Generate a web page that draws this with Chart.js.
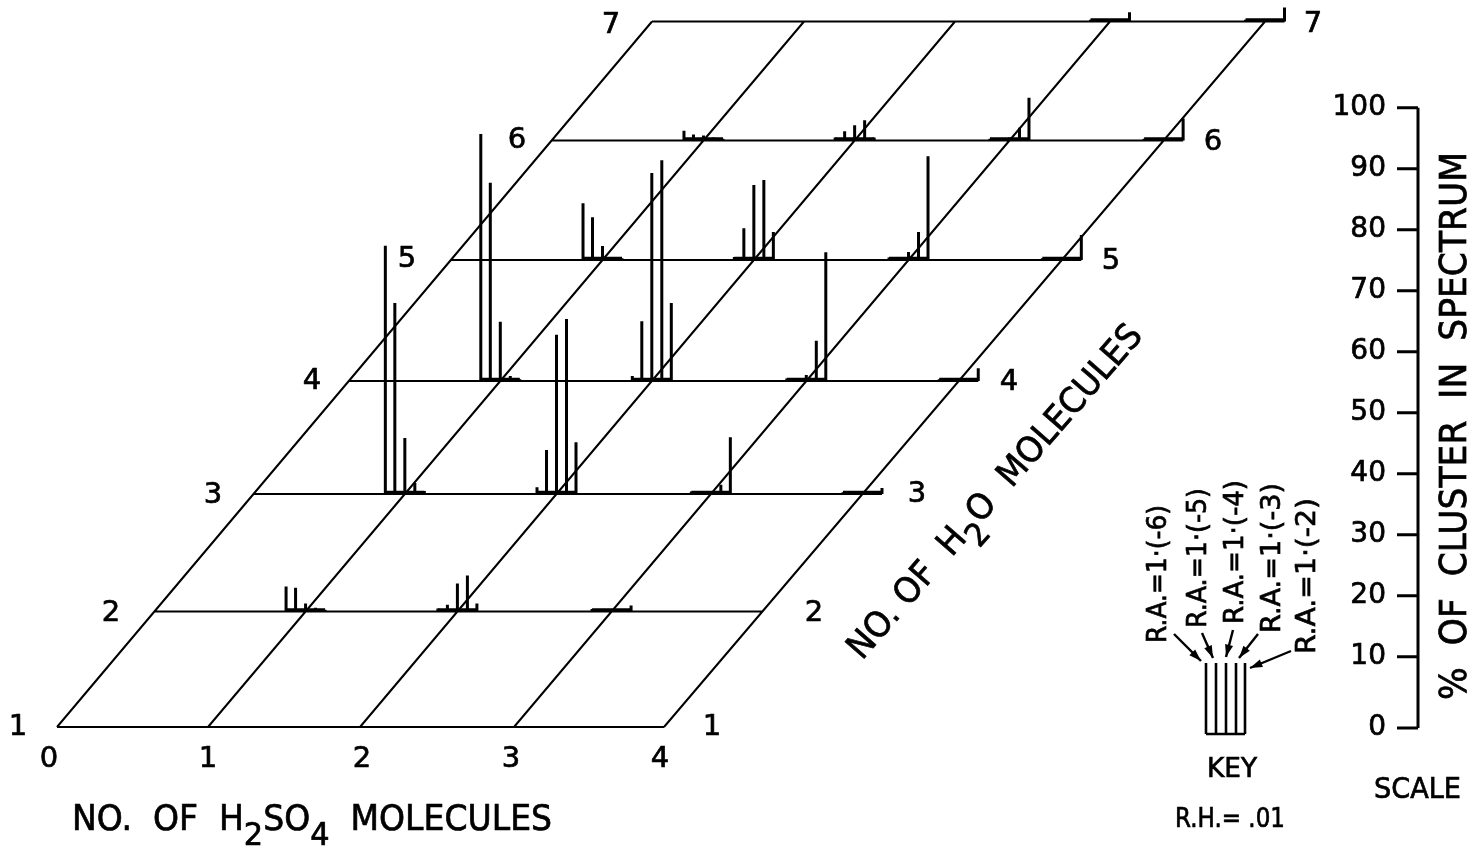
<!DOCTYPE html>
<html>
<head>
<meta charset="utf-8">
<title>H2SO4 cluster spectrum</title>
<script src="https://cdn.jsdelivr.net/npm/chart.js@4"></script>
<style>
  html, body { margin: 0; padding: 0; background: #fff; }
  canvas { display: block; }
</style>
</head>
<body>
<canvas id="chart" width="1474" height="847"></canvas>
<script>
// % of cluster in spectrum, one list per H2O count, one entry per H2SO4 count,
// each entry holds the five R.A. bars from 1(-6) to 1(-2)
const water2 = { 1: [4.1, 3.9, 1.3, 0.6, 0.3], 2: [0.5, 1.1, 4.6, 5.9, 1.3], 3: [0.4, 0.4, 0.4, 0.4, 1.0] };
const water3 = { 1: [40.7, 31.3, 9.2, 1.8, 0.5], 2: [1.1, 7.2, 26.1, 28.7, 8.5], 3: [0.4, 0.4, 0.5, 1.5, 9.3], 4: [0.3, 0.3, 0.3, 0.3, 1.0] };
const water4 = { 1: [40.5, 32.5, 9.7, 0.8, 0.3], 2: [0.8, 9.8, 34.1, 36.2, 12.8], 3: [0.4, 0.4, 1.0, 6.6, 21.1], 4: [0.3, 0.3, 0.3, 0.3, 2.1] };
const water5 = { 1: [9.3, 7.0, 2.3, 0.5, 0.3], 2: [0.5, 5.2, 12.3, 13.1, 4.6], 3: [0.4, 0.4, 1.3, 4.6, 17.0], 4: [0.3, 0.3, 0.3, 0.3, 4.1] };
const water6 = { 1: [1.6, 1.0, 0.8, 0.5, 0.3], 2: [0.5, 1.5, 2.5, 3.3, 0.5], 3: [0.3, 0.3, 0.5, 2.1, 7.0], 4: [0.3, 0.3, 0.3, 0.3, 3.6] };
const water7 = { 3: [0.3, 0.3, 0.3, 0.3, 1.5], 4: [0.3, 0.3, 0.3, 0.3, 2.3] };
const waterRows = { 2: water2, 3: water3, 4: water4, 5: water5, 6: water6, 7: water7 };

const acidLabels = ['0', '1', '2', '3', '4'];
const waterLabels = ['1', '2', '3', '4', '5', '6', '7'];
const scaleTicks = [0, 10, 20, 30, 40, 50, 60, 70, 80, 90, 100];
const keyLabels = ['R.A.=1·(-6)', 'R.A.=1·(-5)', 'R.A.=1·(-4)', 'R.A.=1·(-3)', 'R.A.=1·(-2)'];

// layout of the oblique floor, in page pixels
const colBottomX = [57, 208, 360, 514, 664];
const colTopX = [652, 804, 955, 1110, 1265];
const rowY = [727, 611.5, 494, 381, 260, 140.5, 21.5];
const barOffsets = [-19.5, -10, 0, 10, 19.5];
const keyX = [1206, 1216, 1226, 1236, 1245];
const PX_PER_UNIT = 6.1;
const ZERO_PX = 717.7;
const FONT = '"DejaVu Sans"';

const toUnits = py => (ZERO_PX - py) / PX_PER_UNIT;
const crossX = (acid, py) => {
  const t = (rowY[0] - py) / (rowY[0] - rowY[6]);
  return colBottomX[acid] + (colTopX[acid] - colBottomX[acid]) * t;
};

const gridPts = [], barPts = [], basePts = [], scalePts = [], keyPts = [];
const gap = { x: null, y: null };

rowY.forEach((py, i) => {
  // rows from 3 up run on past the last column to the end of the bar group
  const end = crossX(4, py) + (i >= 2 ? barOffsets[4] : 0);
  gridPts.push({ x: crossX(0, py), y: toUnits(py) }, { x: end, y: toUnits(py) }, gap);
});
colBottomX.forEach((_, a) => {
  gridPts.push({ x: colBottomX[a], y: toUnits(rowY[0]) }, { x: colTopX[a], y: toUnits(rowY[6]) }, gap);
});

Object.keys(waterRows).forEach(w => {
  const py = rowY[w - 1];
  Object.keys(waterRows[w]).forEach(a => {
    const cx = crossX(+a, py);
    const base = toUnits(py);
    basePts.push({ x: cx + barOffsets[0], y: base + 0.25 }, { x: cx + barOffsets[4], y: base + 0.25 }, gap);
    waterRows[w][a].forEach((pct, b) => {
      barPts.push({ x: cx + barOffsets[b], y: base }, { x: cx + barOffsets[b], y: base + pct }, gap);
    });
  });
});

// the hand drawn scale has a longer step between 0 and 10
const tickAt = v => (v === 0 ? -1.7 : v);
scalePts.push({ x: 1418, y: tickAt(0) }, { x: 1418, y: 100 }, gap);
scaleTicks.forEach(v => scalePts.push({ x: 1397, y: tickAt(v) }, { x: 1418, y: tickAt(v) }, gap));

keyX.forEach(x => keyPts.push({ x: x, y: toUnits(734) }, { x: x, y: toUnits(663) }, gap));
keyPts.push({ x: keyX[0], y: toUnits(734) }, { x: keyX[4], y: toUnits(734) });

const lineSet = (label, data, width) => ({
  label, data, borderColor: '#000', borderWidth: width, pointRadius: 0,
  spanGaps: false, borderCapStyle: 'butt', tension: 0, fill: false, showLine: true
});

// text and key arrows
function fitText(ctx, parts, x, y, opts) {
  const size = opts.size;
  ctx.save();
  ctx.translate(x, y);
  ctx.rotate((opts.angle || 0) * Math.PI / 180);
  ctx.fillStyle = '#000';
  ctx.strokeStyle = '#000';
  ctx.lineWidth = 0.7;
  ctx.textBaseline = 'alphabetic';
  ctx.textAlign = 'left';
  let total = 0;
  parts.forEach(p => {
    ctx.font = `${p.sub ? size * 0.92 : size}px ${FONT}`;
    total += ctx.measureText(p.text).width;
  });
  const k = opts.width ? opts.width / total : 1;
  ctx.scale(k, 1);
  let cur = 0;
  parts.forEach(p => {
    ctx.font = `${p.sub ? size * 0.92 : size}px ${FONT}`;
    const dy = p.sub ? size * 0.42 : 0;
    ctx.fillText(p.text, cur, dy);
    ctx.strokeText(p.text, cur, dy);
    cur += ctx.measureText(p.text).width;
  });
  ctx.restore();
}

function centerText(ctx, text, x, y, size) {
  ctx.save();
  ctx.fillStyle = '#000';
  ctx.strokeStyle = '#000';
  ctx.lineWidth = 0.7;
  ctx.font = `${size}px ${FONT}`;
  ctx.textAlign = 'center';
  ctx.textBaseline = 'middle';
  ctx.fillText(text, x, y);
  ctx.strokeText(text, x, y);
  ctx.restore();
}

function arrow(ctx, x1, y1, x2, y2) {
  const ang = Math.atan2(y2 - y1, x2 - x1);
  ctx.save();
  ctx.strokeStyle = '#000';
  ctx.fillStyle = '#000';
  ctx.lineWidth = 2.4;
  ctx.beginPath();
  ctx.moveTo(x1, y1);
  ctx.lineTo(x2, y2);
  ctx.stroke();
  ctx.beginPath();
  ctx.moveTo(x2, y2);
  ctx.lineTo(x2 - 13 * Math.cos(ang - 0.32), y2 - 13 * Math.sin(ang - 0.32));
  ctx.lineTo(x2 - 13 * Math.cos(ang + 0.32), y2 - 13 * Math.sin(ang + 0.32));
  ctx.closePath();
  ctx.fill();
  ctx.restore();
}

const labelsPlugin = {
  id: 'labels',
  afterDraw(chart) {
    const ctx = chart.ctx;
    const leftX = [18, 111, 213, 312, 407, 517, 611];
    const rightX = [712, 814, 917, 1009, 1111, 1213, 1313];
    const leftY = [727, 613, 495, 381, 259, 140, 25];
    const rightY = [727, 613, 494, 382, 261, 142, 24];
    waterLabels.forEach((t, i) => {
      centerText(ctx, t, leftX[i], leftY[i], 29);
      centerText(ctx, t, rightX[i], rightY[i], 29);
    });
    const bottomX = [49, 208, 362, 511, 660];
    acidLabels.forEach((t, i) => centerText(ctx, t, bottomX[i], 759, 29));

    fitText(ctx, [{ text: 'NO.  OF  H' }, { text: '2', sub: true }, { text: 'SO' }, { text: '4', sub: true }, { text: '  MOLECULES' }],
      72, 830, { size: 35, width: 480 });
    fitText(ctx, [{ text: 'NO. OF  H' }, { text: '2', sub: true }, { text: 'O  MOLECULES' }],
      862, 661, { size: 35, angle: -49, width: 430 });
    fitText(ctx, [{ text: '%  OF  CLUSTER  IN  SPECTRUM' }], 1466, 700, { size: 37, angle: -90, width: 548 });

    const keyBaseX = [1166, 1206, 1243, 1280, 1315];
    const keyBottom = [643, 628, 624, 633, 654];
    const keyLen = [138, 140, 144, 150, 156];
    keyLabels.forEach((t, i) => {
      fitText(ctx, [{ text: t }], keyBaseX[i], keyBottom[i], { size: 26, angle: -90, width: keyLen[i] });
    });
    arrow(ctx, 1174, 634, 1201, 661);
    arrow(ctx, 1202, 633, 1213, 658);
    arrow(ctx, 1233, 630, 1226, 657);
    arrow(ctx, 1258, 634, 1239, 658);
    arrow(ctx, 1291, 651, 1250, 668);

    fitText(ctx, [{ text: 'KEY' }], 1207, 777, { size: 27, width: 50 });
    fitText(ctx, [{ text: 'R.H.= .01' }], 1175, 827, { size: 26, width: 110 });
    fitText(ctx, [{ text: 'SCALE' }], 1374, 798, { size: 28, width: 87 });
  }
};

new Chart(document.getElementById('chart'), {
  type: 'scatter',
  data: {
    datasets: [
      lineSet('floor grid', gridPts, 2),
      lineSet('cluster bars', barPts, 3),
      lineSet('bar bases', basePts, 3.4),
      lineSet('scale', scalePts, 3),
      lineSet('key', keyPts, 2.6)
    ]
  },
  options: {
    responsive: false,
    animation: false,
    layout: { padding: 0 },
    plugins: { legend: { display: false }, tooltip: { enabled: false }, title: { display: false } },
    events: [],
    scales: {
      x: { type: 'linear', display: false, min: 0, max: 1474 },
      y: {
        type: 'linear',
        min: toUnits(847),
        max: toUnits(0),
        position: { x: 1386 },
        border: { display: false },
        grid: { display: false },
        afterBuildTicks: scale => { scale.ticks = scaleTicks.map(v => ({ value: tickAt(v) })); },
        // keep the tick labels from pushing the plot area in
        afterFit: scale => { scale.paddingTop = 0; scale.paddingBottom = 0; },
        ticks: {
          color: '#000',
          padding: 0,
          textStrokeColor: '#000',
          textStrokeWidth: 0.7,
          font: { family: 'DejaVu Sans', size: 28 },
          callback: value => (value < 0 ? '0' : String(Math.round(value)))
        }
      }
    }
  },
  plugins: [labelsPlugin]
});
</script>
</body>
</html>
